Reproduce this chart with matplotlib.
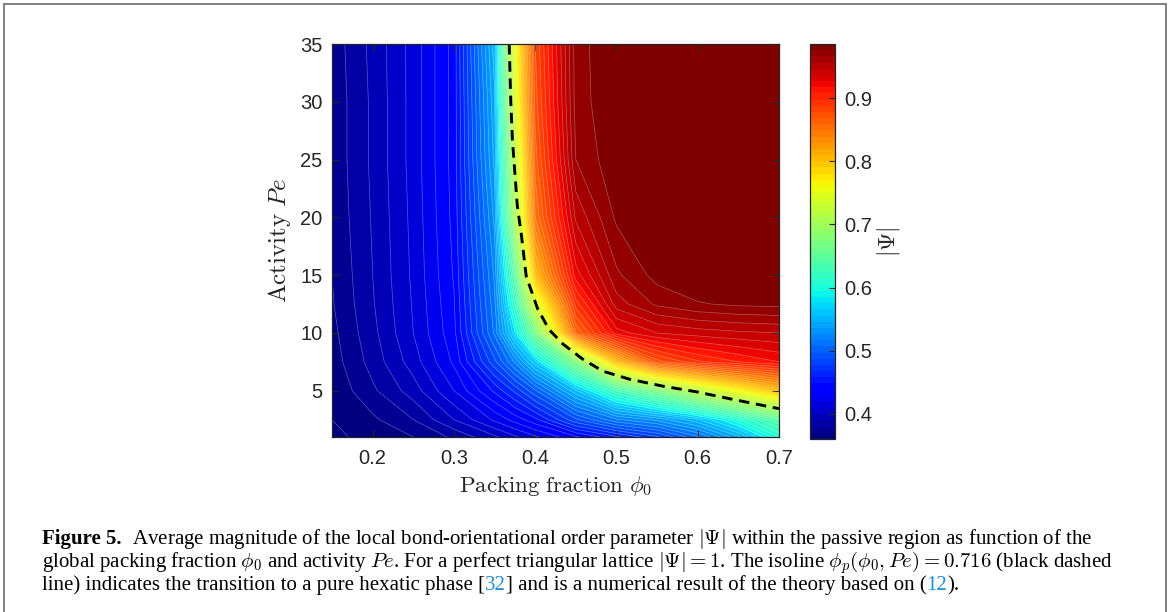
import numpy as np
import matplotlib
matplotlib.use('Agg')
import matplotlib.pyplot as plt
from matplotlib import colors, cm
from matplotlib.lines import Line2D

plt.rcParams['font.family'] = 'Liberation Sans'
plt.rcParams['mathtext.fontset'] = 'cm'

# grid
phi = [0.15, 0.2, 0.25, 0.3, 0.35, 0.375, 0.4, 0.45, 0.5, 0.55, 0.6, 0.65, 0.7]
pe = [1, 2.5, 5, 7.5, 10, 12.5, 15, 20, 25, 30, 35]

psi = [
    [0.358, 0.363, 0.370, 0.382, 0.398, 0.408, 0.418, 0.438, 0.458, 0.478, 0.508, 0.548, 0.600],
    [0.360, 0.368, 0.380, 0.400, 0.422, 0.434, 0.447, 0.488, 0.518, 0.533, 0.558, 0.598, 0.640],
    [0.362, 0.378, 0.395, 0.420, 0.452, 0.472, 0.498, 0.558, 0.620, 0.665, 0.716, 0.760, 0.800],
    [0.365, 0.384, 0.405, 0.432, 0.487, 0.522, 0.568, 0.670, 0.800, 0.875, 0.898, 0.910, 0.920],
    [0.367, 0.387, 0.410, 0.437, 0.512, 0.578, 0.660, 0.860, 0.925, 0.940, 0.945, 0.948, 0.950],
    [0.369, 0.389, 0.411, 0.439, 0.517, 0.610, 0.735, 0.895, 0.955, 0.972, 0.979, 0.982, 0.983],
    [0.370, 0.390, 0.412, 0.441, 0.522, 0.640, 0.800, 0.925, 0.968, 0.984, 0.990, 0.990, 0.990],
    [0.372, 0.391, 0.413, 0.443, 0.533, 0.700, 0.850, 0.952, 0.982, 0.990, 0.990, 0.990, 0.990],
    [0.373, 0.392, 0.414, 0.444, 0.543, 0.715, 0.865, 0.970, 0.988, 0.990, 0.990, 0.990, 0.990],
    [0.373, 0.392, 0.414, 0.444, 0.548, 0.740, 0.875, 0.974, 0.990, 0.990, 0.990, 0.990, 0.990],
    [0.374, 0.393, 0.414, 0.444, 0.556, 0.750, 0.880, 0.975, 0.990, 0.990, 0.990, 0.990, 0.990],
]

# isoline phi_p = 0.716 (theory)
iso_phi = [0.368, 0.370, 0.372, 0.378, 0.383, 0.389, 0.403, 0.417, 0.434, 0.458, 0.483, 0.516, 0.557, 0.599, 0.640, 0.700]
iso_pe = [35.0, 30.0, 26.7, 21.0, 18.5, 14.9, 12.1, 10.3, 9.05, 7.76, 6.7, 6.0, 5.4, 4.9, 4.3, 3.45]

W, H = 1174, 612
fig = plt.figure(figsize=(W / 100, H / 100), dpi=100)

def box(x0, y0, x1, y1):
    return [x0 / W, 1 - y1 / H, (x1 - x0) / W, (y1 - y0) / H]

ax = fig.add_axes(box(332, 44, 779, 437))
cmap = plt.get_cmap('jet', 64)
norm = colors.Normalize(vmin=0.36, vmax=0.986)
levels = list(np.arange(0.36, 0.985, 0.01)) + [1.0]

X, Y = np.meshgrid(phi, pe)
Z = np.array(psi)
ax.contourf(X, Y, Z, levels=[0.3] + levels, cmap=cmap, norm=norm)
ax.contour(X, Y, Z, levels=levels[:-1], colors='white', linewidths=0.5, alpha=0.35)
ax.plot(iso_phi, iso_pe, color='black', lw=2.1, linestyle=(0, (3.6, 2.3)))

ax.set_xlim(0.15, 0.7)
ax.set_ylim(1, 35)
ax.set_xticks([0.2, 0.3, 0.4, 0.5, 0.6, 0.7])
ax.set_yticks([5, 10, 15, 20, 25, 30, 35])
ax.set_xticklabels(['0.2', '0.3', '0.4', '0.5', '0.6', '0.7'])
ax.tick_params(direction='in', top=True, right=True, length=5, width=0.8,
               labelsize=14.5, colors='#262626', pad=9)
ax.tick_params(axis='y', pad=7)
for s in ax.spines.values():
    s.set_color('#262626')
    s.set_linewidth(0.9)
ax.set_xlabel(r'$\mathrm{Packing\ fraction}\ \phi_0$', fontsize=16.5, color='#262626', labelpad=4)
ax.set_ylabel(r'$\mathrm{Activity}\ Pe$', fontsize=18, color='#262626', labelpad=5)

cax = fig.add_axes(box(810, 44, 835, 439))
cb = fig.colorbar(cm.ScalarMappable(norm=norm, cmap=cmap), cax=cax)
cb.set_ticks([0.4, 0.5, 0.6, 0.7, 0.8, 0.9])
cb.ax.tick_params(direction='in', length=4, width=0.8, labelsize=14.5, colors='#262626', pad=7)
cb.outline.set_edgecolor('#262626')
cb.outline.set_linewidth(0.9)
cb.set_label(r'$|\Psi|$', fontsize=17, color='#262626', labelpad=2)

# frame around the figure
frame = dict(color='#808080', lw=1.4, transform=fig.transFigure)
fig.add_artist(Line2D([4 / W, 4 / W], [0, 1 - 4 / H], **frame))
fig.add_artist(Line2D([4 / W, 1166 / W], [1 - 4 / H, 1 - 4 / H], **frame))
fig.add_artist(Line2D([1166 / W, 1166 / W], [0, 1 - 4 / H], **frame))

# caption
blue = '#1f8fd6'
cap = [
    [("Figure 5.", 'black', 'bold'),
     ("  Average magnitude of the local bond-orientational order parameter $|\\Psi|$ within the passive region as function of the", 'black', 'normal')],
    [("global packing fraction $\\phi_0$ and activity $Pe$. For a perfect triangular lattice $|\\Psi| = 1$. The isoline $\\phi_p(\\phi_0, Pe) = 0.716$ (black dashed", 'black', 'normal')],
    [("line) indicates the transition to a pure hexatic phase [", 'black', 'normal'),
     ("32", blue, 'normal'),
     ("] and is a numerical result of the theory based on (", 'black', 'normal'),
     ("12", blue, 'normal'),
     (").", 'black', 'normal')],
]
baselines = [544, 567, 590]

fig.canvas.draw()
renderer = fig.canvas.get_renderer()
for line, yb in zip(cap, baselines):
    x = 42 / W
    for s, c, w in line:
        t = fig.text(x, 1 - yb / H, s, fontsize=15, family='Liberation Serif',
                     color=c, weight=w, va='baseline', ha='left')
        bb = t.get_window_extent(renderer)
        x += bb.width / W

fig.savefig('out.png', dpi=100)
